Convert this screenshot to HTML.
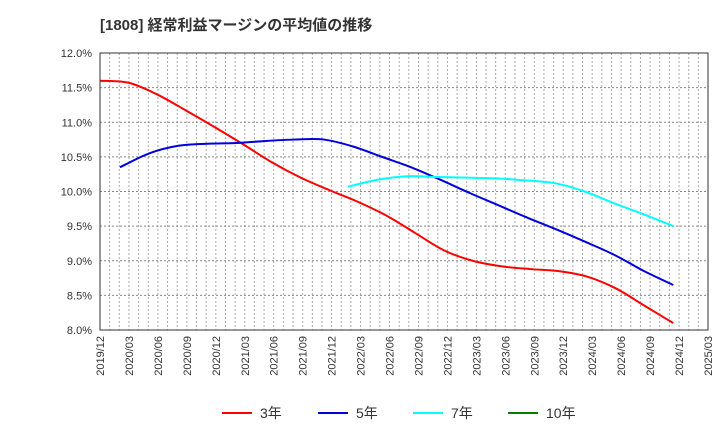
<!DOCTYPE html>
<html><head><meta charset="utf-8"><style>
body{margin:0;background:#fff;font-family:"Liberation Sans","Noto Sans CJK JP",sans-serif;}
svg text{font-family:"Liberation Sans","Noto Sans CJK JP",sans-serif;}
</style></head><body>
<svg id="c" width="720" height="440">
<text x="100" y="30" font-size="15" font-weight="bold" fill="#333">[1808]  経常利益マージンの平均値の推移</text>
<g id="grid"></g>
<g id="yaxis"></g>
<g id="xaxis"></g>
<g id="series"></g>
<rect x="100" y="53" width="608" height="277" fill="none" stroke="#333" stroke-width="1"/>
<g id="legend"></g>
</svg>
<script>
const xLabels=["2019/12","2020/03","2020/06","2020/09","2020/12","2021/03","2021/06","2021/09","2021/12","2022/03","2022/06","2022/09","2022/12","2023/03","2023/06","2023/09","2023/12","2024/03","2024/06","2024/09","2024/12","2025/03"];
const yTicks=[8.0,8.5,9.0,9.5,10.0,10.5,11.0,11.5,12.0];
const s3=[11.6,11.57,11.4,11.17,10.93,10.68,10.42,10.2,10.02,9.85,9.65,9.4,9.15,9.0,8.92,8.88,8.85,8.77,8.6,8.35,8.1];
const s3Range=[0,19.8];
const s5=[10.35,10.55,10.66,10.69,10.7,10.73,10.75,10.75,10.65,10.5,10.35,10.17,9.98,9.8,9.62,9.45,9.27,9.08,8.85,8.65];
const s5Range=[0.69,19.8];
const s7=[10.07,10.17,10.22,10.21,10.2,10.19,10.16,10.12,10.0,9.83,9.67,9.5];
const s7Range=[8.57,19.8];
const s10=[];
const s10Range=[0,19.8];
const L=100,R=708,T=53,B=330,ns="http://www.w3.org/2000/svg";
const X=i=>L+(R-L)*i/(xLabels.length-1);
const Y=v=>B-(v-8)/(12-8)*(B-T);
function mk(tag,attrs,parent){const e=document.createElementNS(ns,tag);for(const k in attrs)e.setAttribute(k,attrs[k]);parent.appendChild(e);return e;}
const grid=document.getElementById('grid'),ya=document.getElementById('yaxis'),xa=document.getElementById('xaxis'),sg=document.getElementById('series'),lg=document.getElementById('legend');
const months=(xLabels.length-1)*3;
for(let m=1;m<months;m++){const x=L+(R-L)*m/months;const l=mk('line',{x1:x,x2:x,y1:T,y2:B,stroke:'#aaa','stroke-dasharray':'2,2','stroke-width':1},grid);}
yTicks.forEach(v=>{const y=Y(v);const l=mk('line',{x1:L,x2:R,y1:y,y2:y,stroke:'#888','stroke-dasharray':'2,2','stroke-width':1},grid);
const t=mk('text',{x:L-8,y:y+4,'text-anchor':'end','font-size':11,fill:'#333'},ya);t.textContent=v.toFixed(1)+'%';});
xLabels.forEach((s,i)=>{const x=X(i);const t=mk('text',{x:x+4,y:B+6,'text-anchor':'end','font-size':11,fill:'#333',transform:`rotate(-90 ${x+4} ${B+6})`},xa);t.textContent=s;});
function path(vals,rg){const n=vals.length;const p=vals.map((v,i)=>[X(rg[0]+(rg[1]-rg[0])*i/Math.max(1,n-1)),Y(v)]);if(p.length<2)return '';let d=`M${p[0][0]},${p[0][1]}`;
for(let i=0;i<p.length-1;i++){const p0=p[i-1]||p[i],p1=p[i],p2=p[i+1],p3=p[i+2]||p2;
d+=` C${p1[0]+(p2[0]-p0[0])/6},${p1[1]+(p2[1]-p0[1])/6} ${p2[0]-(p3[0]-p1[0])/6},${p2[1]-(p3[1]-p1[1])/6} ${p2[0]},${p2[1]}`;}return d;}
const series=[[s3,s3Range,'#ff0000','3年','series-3y'],[s5,s5Range,'#0000dd','5年','series-5y'],[s7,s7Range,'#00ffff','7年','series-7y'],[s10,s10Range,'#008000','10年','series-10y']];
series.forEach(([v,rg,c,n,dn],k)=>{if(v.length>1){const p=mk('path',{d:path(v,rg),fill:'none',stroke:c,'stroke-width':2},sg);}
const lx=[222,318,413,508][k];const l=mk('line',{x1:lx,x2:lx+30,y1:413,y2:413,stroke:c,'stroke-width':2},lg);
const t=mk('text',{x:lx+38,y:418,'font-size':14,fill:'#333'},lg);t.textContent=n;});
</script>
</body></html>
